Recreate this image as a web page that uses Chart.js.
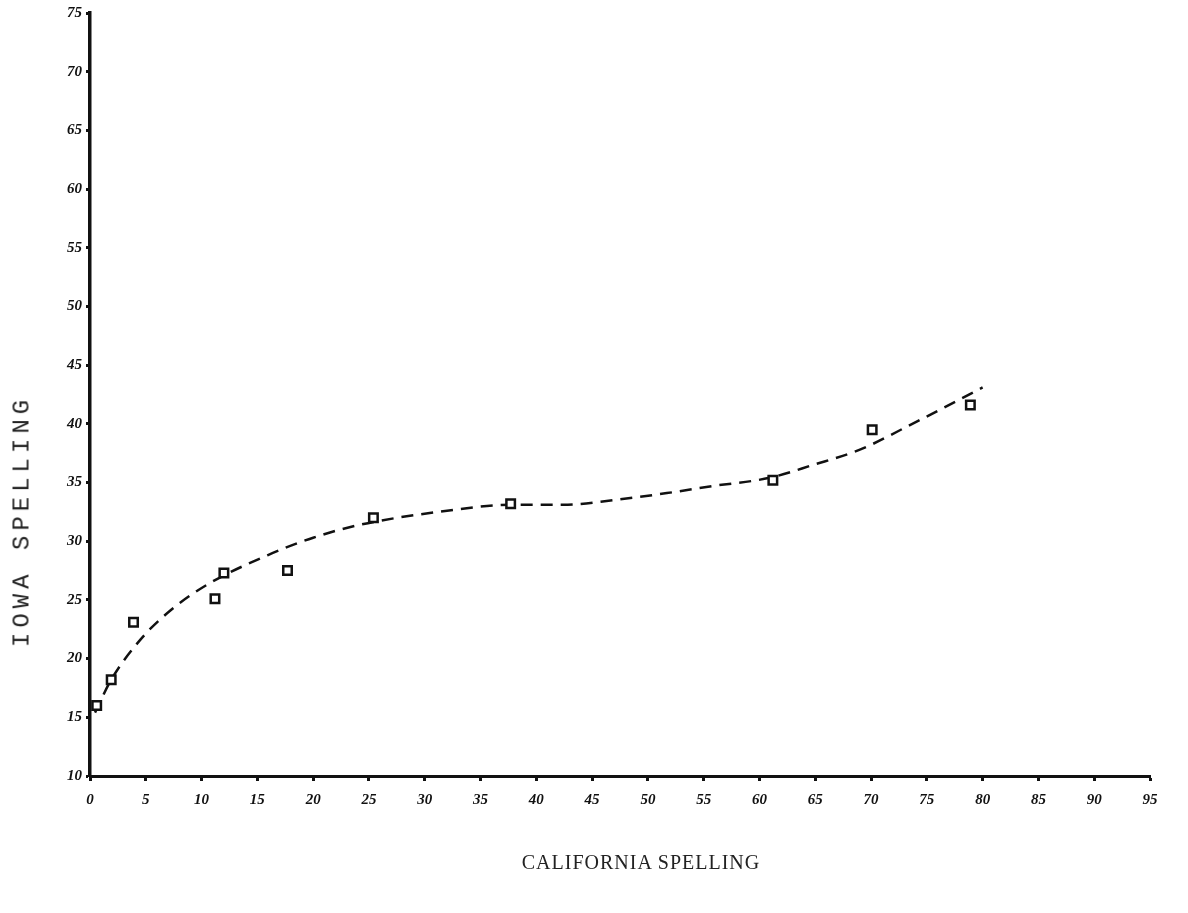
<!DOCTYPE html>
<html>
<head>
<meta charset="utf-8">
<script src="https://cdn.jsdelivr.net/npm/chart.js@4.4.1/dist/chart.umd.min.js"></script>
<style>
  html, body { margin: 0; padding: 0; background: #ffffff; }
  #wrap { position: relative; width: 1188px; height: 913px; overflow: hidden; }
  #c { position: absolute; left: 0; top: 0; }
  .ytitle {
    position: absolute; left: 22px; top: 521px;
    transform: translate(-50%, -50%) rotate(-90deg);
    font-family: "Liberation Mono", "DejaVu Sans Mono", monospace;
    font-size: 24px; letter-spacing: 5px; color: #222; white-space: nowrap;
  }
  .xtitle {
    position: absolute; left: 641px; top: 862px;
    transform: translate(-50%, -50%);
    font-family: "Liberation Serif", "DejaVu Serif", serif;
    font-size: 20px; letter-spacing: 1px; color: #222; white-space: nowrap;
  }
</style>
</head>
<body>
<div id="wrap">
  <canvas id="c" width="1188" height="913"></canvas>
  <div class="ytitle">IOWA SPELLING</div>
  <div class="xtitle">CALIFORNIA SPELLING</div>
</div>
<script>
// Observed points (California score, Iowa score)
const californiaScores = [0.6, 1.9, 3.9, 11.2, 12.0, 17.7, 25.4, 37.7, 61.2, 70.1, 78.9];
const iowaScores       = [16.0, 18.2, 23.1, 25.1, 27.3, 27.5, 32.0, 33.2, 35.2, 39.5, 41.6];

// Hand-drawn dashed trend curve
const curveX = [0.45, 1.9, 4.5, 7.2, 10.5, 15.9, 20.0, 24.2, 32.0, 37.7, 42.4, 46.9, 51.7, 55.8, 60.9, 64.8, 69.0, 73.7, 80.0];
const curveY = [15.4, 18.2, 21.6, 24.1, 26.3, 28.8, 30.3, 31.4, 32.6, 33.1, 33.1, 33.5, 34.1, 34.7, 35.4, 36.5, 37.8, 40.0, 43.1];

// Axis ranges / tick steps
const xMin = 0, xMax = 95, xStep = 5;
const yMin = 10, yMax = 75, yStep = 5;

const points = californiaScores.map((x, i) => ({ x: x, y: iowaScores[i] }));
const curve = curveX.map((x, i) => ({ x: x, y: curveY[i] }));

const tickFont = { family: "'Liberation Serif', 'DejaVu Serif', serif", size: 15, style: 'italic', weight: 'bold' };

new Chart(document.getElementById('c'), {
  type: 'scatter',
  data: {
    datasets: [
      {
        label: 'curve',
        data: curve,
        showLine: true,
        borderColor: '#111',
        borderWidth: 2.5,
        borderDash: [12, 8],
        pointRadius: 0,
        fill: false,
        cubicInterpolationMode: 'monotone',
        order: 2
      },
      {
        label: 'points',
        data: points,
        pointStyle: 'rect',
        pointRadius: 6,
        pointBorderWidth: 2.5,
        pointBorderColor: '#111',
        pointBackgroundColor: '#ffffff',
        showLine: false,
        order: 1
      }
    ]
  },
  options: {
    responsive: false,
    animation: false,
    layout: { padding: { top: 12, right: 38, left: 0, bottom: 0 } },
    plugins: { legend: { display: false }, tooltip: { enabled: false } },
    scales: {
      x: {
        type: 'linear',
        min: xMin, max: xMax,
        ticks: { stepSize: xStep, color: '#111', font: tickFont, padding: 10, maxRotation: 0, autoSkip: false },
        grid: { drawOnChartArea: false, color: '#111', tickLength: 5, tickWidth: 3 },
        border: { color: '#111', width: 3 },
        afterFit: (s) => { s.height = 137; }
      },
      y: {
        type: 'linear',
        min: yMin, max: yMax,
        ticks: { stepSize: yStep, color: '#111', font: tickFont, padding: 4, autoSkip: false },
        grid: { drawOnChartArea: false, color: '#111', tickLength: 4, tickWidth: 3 },
        border: { color: '#111', width: 3.5 },
        afterFit: (s) => { s.width = 90; }
      }
    }
  }
});
</script>
</body>
</html>
